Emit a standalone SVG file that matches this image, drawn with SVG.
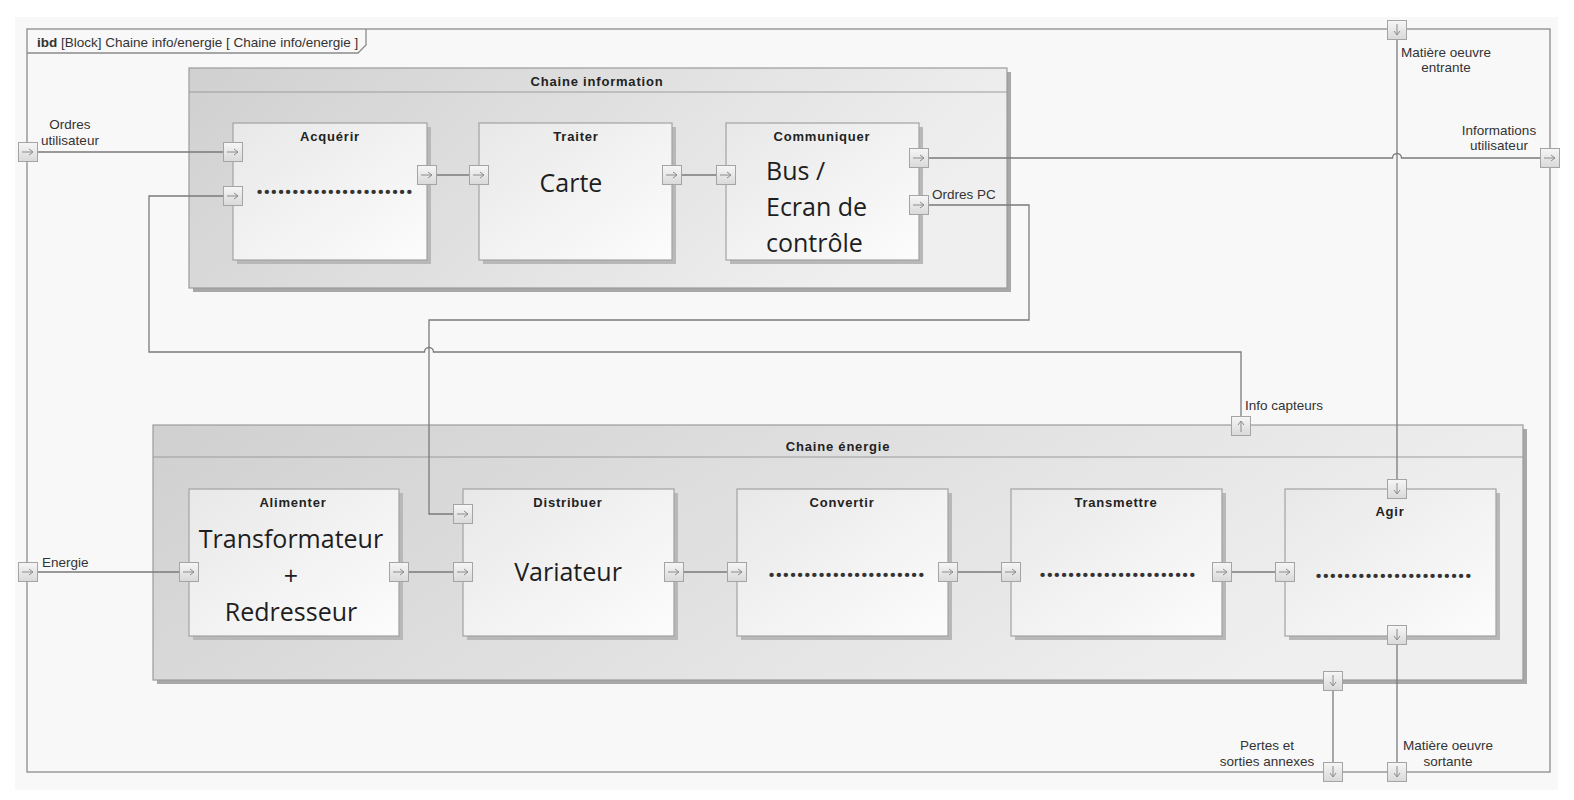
<svg xmlns="http://www.w3.org/2000/svg" width="1574" height="800" viewBox="0 0 1574 800">
<style>
.frame{fill:none;stroke:#8a8a8a;stroke-width:1.3}
.cont{stroke:#9c9c9c;stroke-width:1.2;fill:url(#gCont)}
.cshadow{fill:#a8a8a8}
.blk{stroke:#a2a2a2;stroke-width:1.2;fill:url(#gBlk)}
.bshadow{fill:#b8b8b8}
.hdr{stroke:#9c9c9c;stroke-width:1.2}
.conn{fill:none;stroke:#7a7a7a;stroke-width:1.3}
.pbox{fill:url(#gPort);stroke:#a4a4a4;stroke-width:1}
.parr{fill:none;stroke:#8c8c8c;stroke-width:1}
.lbl{font-family:"Liberation Sans",Arial,sans-serif;font-size:13.5px;fill:#333}
.ttl{font-family:"Liberation Sans",Arial,sans-serif;font-size:13px;font-weight:bold;letter-spacing:0.8px;fill:#222;text-anchor:middle}
.big{font-family:"Open Sans","Noto Sans",sans-serif;font-size:25px;fill:#1e1e1e}
.dots{font-family:"Open Sans","Noto Sans",sans-serif;font-size:25px;font-weight:bold;fill:#333;letter-spacing:0px}
.mid{text-anchor:middle}
</style>
<defs>
<linearGradient id="gCont" x1="0" y1="0" x2="1" y2="0.3">
<stop offset="0" stop-color="#d0d0d0"/><stop offset="1" stop-color="#efefef"/>
</linearGradient>
<linearGradient id="gBlk" x1="0" y1="0" x2="1" y2="1">
<stop offset="0" stop-color="#e8e8e8"/><stop offset="1" stop-color="#fcfcfc"/>
</linearGradient>
<linearGradient id="gPort" x1="0" y1="0" x2="0" y2="1">
<stop offset="0" stop-color="#f6f6f6"/><stop offset="1" stop-color="#d9d9d9"/>
</linearGradient>
<g id="pR"><rect class="pbox" x="-9.5" y="-9.5" width="19" height="19"/><path class="parr" d="M-6,0 H5 M1,-3 L5,0 L1,3"/></g>
<g id="pD"><rect class="pbox" x="-9.5" y="-9.5" width="19" height="19"/><path class="parr" d="M0,-6 V5 M-3,1 L0,5 L3,1"/></g>
<g id="pU"><rect class="pbox" x="-9.5" y="-9.5" width="19" height="19"/><path class="parr" d="M0,6 V-5 M-3,-1 L0,-5 L3,-1"/></g>
</defs>
<rect x="0" y="0" width="1574" height="800" fill="#ffffff"/>
<rect x="15" y="17" width="1543" height="773" fill="#f8f8f8"/>

<g id="frame">
<rect class="frame" x="27" y="29" width="1523" height="743"/>
<path class="frame" d="M27,53 H358 L366,45 V29"/>
<text class="lbl" x="37" y="47" font-size="13"><tspan font-weight="bold">ibd</tspan> [Block] Chaine info/energie [ Chaine info/energie ]</text>
</g>

<g id="chaine-information">
<rect class="cshadow" x="193" y="72" width="818" height="220"/>
<rect class="cont" x="189" y="68" width="818" height="220"/>
<line class="hdr" x1="189" y1="92" x2="1007" y2="92"/>
<text class="ttl" x="597" y="86">Chaine information</text>
</g>

<g id="chaine-energie">
<rect class="cshadow" x="157" y="429" width="1370" height="255"/>
<rect class="cont" x="153" y="425" width="1370" height="255"/>
<line class="hdr" x1="153" y1="457" x2="1523" y2="457"/>
<text class="ttl" x="838" y="451">Chaine énergie</text>
</g>

<g id="acquerir">
<rect class="bshadow" x="237" y="127" width="194" height="137"/>
<rect class="blk" x="233" y="123" width="194" height="137"/>
<text class="ttl" x="330" y="141">Acquérir</text>
<text class="dots" x="256" y="194">......................</text>
</g>
<g id="traiter">
<rect class="bshadow" x="483" y="127" width="193" height="137"/>
<rect class="blk" x="479" y="123" width="193" height="137"/>
<text class="ttl" x="576" y="141">Traiter</text>
<text class="big mid" x="571" y="192">Carte</text>
</g>
<g id="communiquer">
<rect class="bshadow" x="730" y="127" width="193" height="137"/>
<rect class="blk" x="726" y="123" width="193" height="137"/>
<text class="ttl" x="822" y="141">Communiquer</text>
<text class="big" x="766" y="180">Bus /</text>
<text class="big" x="766" y="216">Ecran de</text>
<text class="big" x="766" y="252">contrôle</text>
</g>

<g id="alimenter">
<rect class="bshadow" x="193" y="493" width="210" height="147"/>
<rect class="blk" x="189" y="489" width="210" height="147"/>
<text class="ttl" x="293" y="507">Alimenter</text>
<text class="big mid" x="291" y="548">Transformateur</text>
<text class="big mid" x="291" y="585">+</text>
<text class="big mid" x="291" y="621">Redresseur</text>
</g>
<g id="distribuer">
<rect class="bshadow" x="467" y="493" width="211" height="147"/>
<rect class="blk" x="463" y="489" width="211" height="147"/>
<text class="ttl" x="568" y="507">Distribuer</text>
<text class="big mid" x="568" y="581">Variateur</text>
</g>
<g id="convertir">
<rect class="bshadow" x="741" y="493" width="211" height="147"/>
<rect class="blk" x="737" y="489" width="211" height="147"/>
<text class="ttl" x="842" y="507">Convertir</text>
<text class="dots" x="768" y="577">......................</text>
</g>
<g id="transmettre">
<rect class="bshadow" x="1015" y="493" width="211" height="147"/>
<rect class="blk" x="1011" y="489" width="211" height="147"/>
<text class="ttl" x="1116" y="507">Transmettre</text>
<text class="dots" x="1039" y="577">......................</text>
</g>
<g id="agir">
<rect class="bshadow" x="1289" y="493" width="211" height="147"/>
<rect class="blk" x="1285" y="489" width="211" height="147"/>
<text class="ttl" x="1390" y="516">Agir</text>
<text class="dots" x="1315" y="578">......................</text>
</g>

<g id="connectors">
<path class="conn" d="M28,152 H233"/>
<path class="conn" d="M427,175 H479"/>
<path class="conn" d="M672,175 H726"/>
<path class="conn" d="M919,158 H1392.5 A4.5,4.5 0 0 1 1401.5,158 H1550"/>
<path class="conn" d="M919,205 H1029 V320 H429 V514 H463"/>
<path class="conn" d="M1241,426 V352 H433.5 A4.5,4.5 0 0 0 424.5,352 H149 V196 H233"/>
<path class="conn" d="M1397,30 V489"/>
<path class="conn" d="M1397,635 V772"/>
<path class="conn" d="M1333,681 V772"/>
<path class="conn" d="M28,572 H189"/>
<path class="conn" d="M399,572 H463"/>
<path class="conn" d="M674,572 H737"/>
<path class="conn" d="M948,572 H1011"/>
<path class="conn" d="M1222,572 H1285"/>
</g>

<g id="ports">
<use href="#pR" x="28" y="152"/>
<use href="#pR" x="28" y="572"/>
<use href="#pR" x="1550" y="158"/>
<use href="#pD" x="1397" y="30"/>
<use href="#pD" x="1333" y="772"/>
<use href="#pD" x="1397" y="772"/>
<use href="#pR" x="233" y="152"/>
<use href="#pR" x="233" y="196"/>
<use href="#pR" x="427" y="175"/>
<use href="#pR" x="479" y="175"/>
<use href="#pR" x="672" y="175"/>
<use href="#pR" x="726" y="175"/>
<use href="#pR" x="919" y="158"/>
<use href="#pR" x="919" y="205"/>
<use href="#pU" x="1241" y="426"/>
<use href="#pD" x="1333" y="681"/>
<use href="#pR" x="189" y="572"/>
<use href="#pR" x="399" y="572"/>
<use href="#pR" x="463" y="514"/>
<use href="#pR" x="463" y="572"/>
<use href="#pR" x="674" y="572"/>
<use href="#pR" x="737" y="572"/>
<use href="#pR" x="948" y="572"/>
<use href="#pR" x="1011" y="572"/>
<use href="#pR" x="1222" y="572"/>
<use href="#pR" x="1285" y="572"/>
<use href="#pD" x="1397" y="489"/>
<use href="#pD" x="1397" y="635"/>
</g>

<g id="labels">
<text class="lbl mid" x="70" y="129">Ordres</text>
<text class="lbl mid" x="70" y="145">utilisateur</text>
<text class="lbl" x="42" y="567">Energie</text>
<text class="lbl" x="932" y="199">Ordres PC</text>
<text class="lbl" x="1245" y="410">Info capteurs</text>
<text class="lbl mid" x="1446" y="57">Matière oeuvre</text>
<text class="lbl mid" x="1446" y="72">entrante</text>
<text class="lbl mid" x="1499" y="135">Informations</text>
<text class="lbl mid" x="1499" y="150">utilisateur</text>
<text class="lbl mid" x="1267" y="750">Pertes et</text>
<text class="lbl mid" x="1267" y="766">sorties annexes</text>
<text class="lbl mid" x="1448" y="750">Matière oeuvre</text>
<text class="lbl mid" x="1448" y="766">sortante</text>
</g>
</svg>
